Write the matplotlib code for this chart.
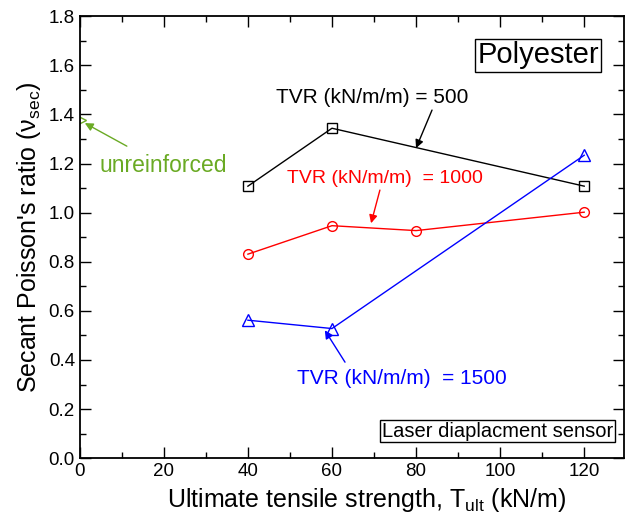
import matplotlib.pyplot as plt
from matplotlib.ticker import MultipleLocator

plt.rcParams['font.family'] = ['Liberation Sans', 'DejaVu Sans']

# data
tult = [40, 60, 120]
tvr500 = [1.108, 1.344, 1.108]
tult_1000 = [40, 60, 80, 120]
tvr1000 = [0.831, 0.947, 0.927, 1.002]
tvr1500 = [0.562, 0.528, 1.234]
unreinforced_x = [0]
unreinforced_y = [1.377]

green = '#6aaa24'

fig = plt.figure(figsize=(6.33, 5.26), dpi=100)
ax = fig.add_axes([0.126, 0.129, 0.86, 0.84])

ax.plot(tult, tvr500, color='black', lw=1, marker='s', ms=7, mfc='none', mec='black')
ax.plot(tult_1000, tvr1000, color='red', lw=1, marker='o', ms=7, mfc='none', mec='red')
ax.plot(tult, tvr1500, color='blue', lw=1, marker='^', ms=8, mfc='none', mec='blue')
ax.plot(unreinforced_x, unreinforced_y, ls='none', marker='>', ms=9, mfc='none', mec=green)

# labels and arrows
arrow = dict(arrowstyle='-|>', lw=1, mutation_scale=12, shrinkA=0, shrinkB=0)
ax.text(69.5, 1.470, 'TVR (kN/m/m) = 500', fontsize=15, color='black', ha='center', va='center')
ax.annotate('', xy=(80, 1.263), xytext=(83.8, 1.418), arrowprops=dict(arrow, color='black'))
ax.text(72.6, 1.141, 'TVR (kN/m/m)  = 1000', fontsize=14, color='red', ha='center', va='center')
ax.annotate('', xy=(69.3, 0.957), xytext=(71.4, 1.092), arrowprops=dict(arrow, color='red'))
ax.text(76.7, 0.326, 'TVR (kN/m/m)  = 1500', fontsize=15, color='blue', ha='center', va='center')
ax.annotate('', xy=(58.3, 0.521), xytext=(63.1, 0.391), arrowprops=dict(arrow, color='blue'))
ax.text(19.8, 1.193, 'unreinforced', fontsize=16.5, color=green, ha='center', va='center')
ax.annotate('', xy=(1.2, 1.365), xytext=(11.2, 1.271), arrowprops=dict(arrow, color=green))

ax.text(0.842, 0.912, 'Polyester', transform=ax.transAxes, fontsize=21,
        ha='center', va='center',
        bbox=dict(boxstyle='square,pad=0.08', fc='white', ec='black', lw=1))
ax.text(0.767, 0.061, 'Laser diaplacment sensor', transform=ax.transAxes, fontsize=14.5,
        ha='center', va='center',
        bbox=dict(boxstyle='square,pad=0.08', fc='white', ec='black', lw=1))

ax.set_xlim(0, 129.5)
ax.set_ylim(0, 1.8)
ax.xaxis.set_major_locator(MultipleLocator(20))
ax.xaxis.set_minor_locator(MultipleLocator(10))
ax.yaxis.set_major_locator(MultipleLocator(0.2))
ax.yaxis.set_minor_locator(MultipleLocator(0.1))
ax.yaxis.set_major_formatter(plt.FormatStrFormatter('%.1f'))
ax.tick_params(which='both', direction='in', top=True, right=True, labelsize=13.5, width=1)
ax.tick_params(which='major', length=8)
ax.tick_params(which='minor', length=4)
for s in ax.spines.values():
    s.set_linewidth(1.3)

ax.set_xlabel('Ultimate tensile strength, T$_{\\mathregular{ult}}$ (kN/m)', fontsize=18)
ax.set_ylabel('Secant Poisson\'s ratio ($\\mathregular{\\nu_{sec}}$)', fontsize=18)
ax.xaxis.label.set_x(0.527)

fig.savefig('out.png', dpi=100)
